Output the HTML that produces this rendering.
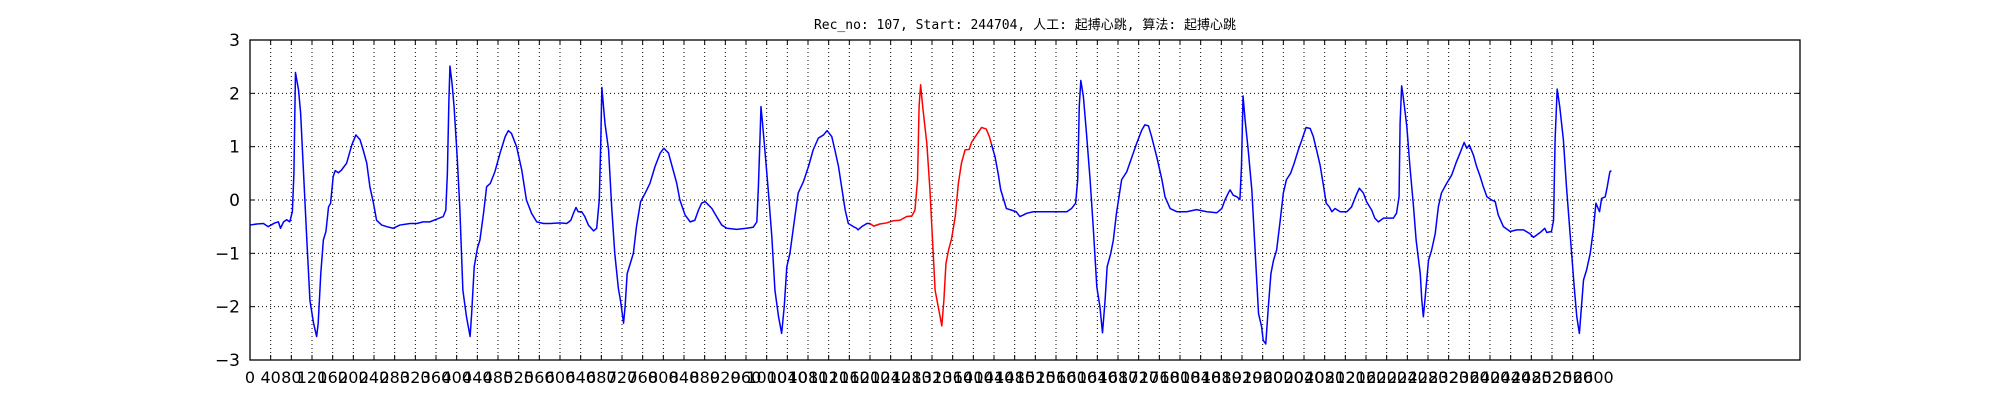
<!DOCTYPE html>
<html><head><meta charset="utf-8">
<style>
html,body{margin:0;padding:0;background:#fff;width:2000px;height:400px;overflow:hidden}
svg{display:block}
</style></head>
<body>
<svg id="chart" width="2000" height="400" xmlns="http://www.w3.org/2000/svg">
<text x="1025" y="29" text-anchor="middle" font-size="13" font-family="'DejaVu Sans Mono','Liberation Mono','Noto Sans CJK SC',monospace" fill="#000">Rec_no: 107, Start: 244704, 人工: 起搏心跳, 算法: 起搏心跳</text>
</svg>
<script>
const yTicks = [-3, -2, -1, 0, 1, 2, 3];
const xTickStep = 40;
const xTickMax = 2600;
const xMin = 0, xMax = 3000, yMin = -3, yMax = 3;
const redStart = 1200;
const redEnd = 1435;
const samples = [0,13,26,35,48,55,59,65,71,77,82,85,88,94,98,103,110,116,123,129,132,137,142,147,152,156,161,165,171,177,187,197,205,213,219,226,232,239,245,255,265,277,290,310,323,335,348,361,374,379,382,385,387,391,395,401,406,412,419,426,429,434,440,445,452,458,465,474,484,494,500,506,516,526,535,545,555,568,581,600,613,621,626,631,635,642,648,655,665,671,
676,679,681,687,694,700,706,713,717,723,726,730,736,742,748,756,765,774,784,794,801,810,819,826,832,842,852,861,868,874,881,887,894,903,913,923,942,961,974,981,984,987,989,992,997,1003,1010,1016,1023,1029,1034,1039,1045,1052,1061,1071,1081,1090,1100,1110,1117,1126,1132,1139,1145,1152,1158,1168,1174,1177,1184,1194,1200,
1207,1219,1232,1245,1258,1271,1281,1287,1292,1295,1298,1302,1310,1316,1326,1332,1339,1343,1347,1352,1358,1365,1371,1377,1384,1392,1397,1406,1416,1425,1431,1435,
1442,1448,1453,1459,1464,1474,1483,1490,1497,1503,1516,1535,1561,1581,1590,1598,1602,1605,1608,1613,1619,1626,1632,1639,1645,1650,1655,1659,1666,1671,1677,1687,1697,1706,1716,1726,1732,1739,1745,1755,1765,1771,1781,1794,1813,1832,1852,1871,1881,1887,1894,1897,1903,1910,1916,1919,1922,1926,1932,1939,1945,1952,1958,1961,1966,1971,1976,1981,1987,1994,
2000,2006,2014,2021,2029,2036,2044,2052,2058,2065,2071,2077,2083,2089,2094,2100,2110,2123,2132,2141,2147,2155,2161,2171,2177,2184,2194,2203,2213,2219,2224,2226,2229,2232,2239,2245,2252,2257,2265,2268,2271,2274,2281,2287,2294,2300,2306,2316,2326,2334,2342,2350,2355,2360,2368,2374,2381,2387,2394,2403,2410,2416,2426,2439,2452,2465,2477,2484,2497,2506,2510,2519,2523,2526,2530,2535,2542,2548,2555,2563,2568,2573,2577,2581,2587,2594,2600,2605,2612,2616,2623,2627,2632,2635];
const values = [-0.47,-0.45,-0.44,-0.50,-0.43,-0.41,-0.53,-0.41,-0.37,-0.41,-0.22,0.50,2.39,2.06,1.63,0.63,-0.75,-1.88,-2.31,-2.56,-2.31,-1.38,-0.75,-0.59,-0.13,-0.06,0.44,0.55,0.51,0.56,0.69,1.03,1.22,1.13,0.94,0.69,0.25,-0.06,-0.38,-0.47,-0.50,-0.53,-0.47,-0.44,-0.44,-0.41,-0.41,-0.36,-0.31,-0.19,0.50,1.88,2.51,2.19,1.75,0.81,-0.13,-1.69,-2.19,-2.56,-2.13,-1.25,-0.91,-0.75,-0.25,0.25,0.31,0.53,0.88,1.19,1.30,1.25,1.00,0.56,0.00,-0.25,-0.41,-0.44,-0.44,-0.43,-0.44,-0.38,-0.25,-0.14,-0.22,-0.22,-0.31,-0.47,-0.58,-0.53,
0,1.13,2.11,1.44,0.94,-0.13,-1.00,-1.66,-1.88,-2.31,-2.0,-1.38,-1.19,-1.0,-0.5,-0.03,0.13,0.31,0.63,0.88,0.97,0.88,0.56,0.31,0,-0.28,-0.41,-0.38,-0.19,-0.06,-0.03,-0.09,-0.16,-0.31,-0.47,-0.53,-0.55,-0.53,-0.51,-0.41,0.25,1.13,1.75,1.44,0.88,0.19,-0.69,-1.69,-2.19,-2.5,-2.0,-1.25,-1.0,-0.5,0.13,0.34,0.63,0.94,1.16,1.22,1.30,1.19,0.94,0.63,0.25,-0.19,-0.44,-0.5,-0.53,-0.56,-0.5,-0.44,-0.44,
-0.49,-0.45,-0.43,-0.39,-0.38,-0.31,-0.30,-0.19,0.38,1.75,2.16,1.75,1.06,0.19,-1.69,-2.0,-2.36,-1.88,-1.19,-0.94,-0.72,-0.31,0.31,0.69,0.94,0.95,1.09,1.22,1.36,1.33,1.19,1.05,
0.81,0.5,0.19,0,-0.16,-0.19,-0.22,-0.31,-0.28,-0.25,-0.22,-0.22,-0.22,-0.22,-0.16,-0.06,0.38,1.75,2.24,1.94,1.25,0.38,-0.5,-1.63,-2.0,-2.49,-1.88,-1.25,-1.0,-0.75,-0.25,0.38,0.53,0.78,1.06,1.31,1.41,1.39,1.19,0.81,0.38,0.06,-0.16,-0.22,-0.22,-0.18,-0.22,-0.24,-0.16,0,0.14,0.19,0.09,0.06,0.01,0.63,1.95,1.5,0.94,0.19,-0.88,-2.13,-2.38,-2.63,-2.7,-2.0,-1.38,-1.13,-0.94,-0.38,
0.13,0.38,0.5,0.69,0.94,1.13,1.36,1.34,1.19,0.91,0.66,0.31,-0.06,-0.13,-0.22,-0.16,-0.22,-0.22,-0.13,0.09,0.22,0.13,-0.03,-0.19,-0.34,-0.41,-0.34,-0.34,-0.34,-0.25,0.06,1.44,2.14,1.94,1.38,0.63,-0.13,-0.75,-1.38,-1.88,-2.19,-1.88,-1.13,-0.94,-0.63,-0.13,0.13,0.31,0.47,0.69,0.88,1.08,0.97,1.03,0.84,0.63,0.44,0.25,0.06,0,-0.03,-0.28,-0.5,-0.59,-0.56,-0.56,-0.63,-0.7,-0.61,-0.53,-0.61,-0.59,-0.38,1.13,2.08,1.75,1.13,0.25,-0.63,-1.63,-2.19,-2.5,-2.0,-1.5,-1.31,-1.0,-0.56,-0.06,-0.22,0.03,0.06,0.25,0.53,0.55];

const NS = 'http://www.w3.org/2000/svg';
const svg = document.getElementById('chart');
const L = 250, R = 1800, T = 40, B = 360;
const sx = v => L + (v - xMin) / (xMax - xMin) * (R - L);
const sy = v => B - (v - yMin) / (yMax - yMin) * (B - T);
function mk(tag, attrs){const e=document.createElementNS(NS,tag);for(const k in attrs)e.setAttribute(k,attrs[k]);svg.appendChild(e);return e;}

// grid + ticks
for (let t = 0; t <= xTickMax; t += xTickStep) {
  const x = sx(t);
  const g = mk('line',{x1:x,y1:T,x2:x,y2:B,stroke:'#000','stroke-width':1,'stroke-dasharray':'1,3'});
  
  
  mk('line',{x1:x,y1:B,x2:x,y2:B-5,stroke:'#000','stroke-width':1});
  mk('line',{x1:x,y1:T,x2:x,y2:T+5,stroke:'#000','stroke-width':1});
  const lb = mk('text',{x:x,y:383,'text-anchor':'middle','font-size':16,'font-family':"'DejaVu Sans','Liberation Sans',sans-serif",fill:'#000'});
  lb.textContent = String(t);
  
  
}
yTicks.forEach(t => {
  const y = sy(t);
  if (t > yMin && t < yMax) {
    const g = mk('line',{x1:L,y1:y,x2:R,y2:y,stroke:'#000','stroke-width':1,'stroke-dasharray':'1,3'});
    
    
  }
  mk('line',{x1:L,y1:y,x2:L+5,y2:y,stroke:'#000','stroke-width':1});
  mk('line',{x1:R,y1:y,x2:R-5,y2:y,stroke:'#000','stroke-width':1});
  const lb = mk('text',{x:240,y:y+6,'text-anchor':'end','font-size':17,'font-family':"'DejaVu Sans','Liberation Sans',sans-serif",fill:'#000'});
  lb.textContent = t < 0 ? '\u2212' + Math.abs(t) : String(t);
  
  
});

// series segments
function seg(filter, color, name){
  const pts = [];
  for (let i=0;i<samples.length;i++) if (filter(samples[i])) pts.push(sx(samples[i]).toFixed(2)+','+sy(values[i]).toFixed(2));
  const p = mk('polyline',{points:pts.join(' '),fill:'none',stroke:color,'stroke-width':1.5,'stroke-linejoin':'round'});
  
  
}
seg(s => s <= redStart, '#0000ff', 'ecg-line-before');
seg(s => s >= redStart && s <= redEnd, '#ff0000', 'ecg-line-highlight');
seg(s => s >= redEnd, '#0000ff', 'ecg-line-after');

// frame
const fr = mk('rect',{x:L,y:T,width:R-L,height:B-T,fill:'none',stroke:'#000','stroke-width':1.3});


</script>
</body></html>
